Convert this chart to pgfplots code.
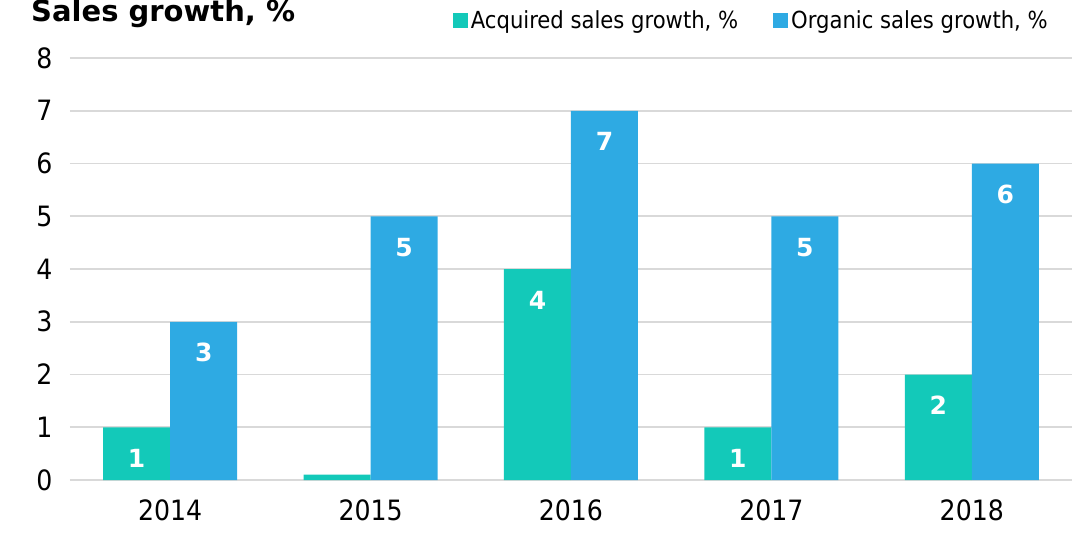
\documentclass[border=0pt]{standalone}
\usepackage{pgfplots}
\usepackage{pgfplotstable}
\pgfplotsset{compat=1.18}
\usepackage{fontspec}
\setmainfont{DejaVu Sans Condensed}
\newfontfamily\titlefont{DejaVu Sans}
\definecolor{acq}{HTML}{13C9B9}
\definecolor{org}{HTML}{2EAAE3}
\definecolor{gridc}{HTML}{D9D9D9}
\pgfplotstableread{
x acq acql org orgl
0 1   1  3 3
1 0.1 {} 5 5
2 4   4  7 7
3 1   1  5 5
4 2   2  6 6
}\salesdata
\begin{document}
\begin{tikzpicture}
\begin{axis}[
  scale only axis,
  width=1002pt, height=422pt,
  ybar=0pt, bar width=67pt,
  xmin=-0.5, xmax=4.5,
  ymin=0, ymax=8,
  ytick={0,1,...,8},
  xtick=data,
  xticklabels={2014,2015,2016,2017,2018},
  axis line style={draw=none},
  major tick length=0pt,
  ymajorgrids,
  grid style={gridc, line width=1.6pt},
  /pgf/number format/assume math mode=true,
  tick label style={font=\fontsize{28}{32}\selectfont},
  yticklabel style={xshift=-14pt},
  xticklabel style={yshift=-16pt},
  nodes near coords,
  point meta=explicit symbolic,
  every node near coord/.append style={anchor=center, yshift=-31pt, text=white, font=\titlefont\bfseries\fontsize{25}{30}\selectfont},
  legend columns=2,
  legend style={at={(0.978,1.09)}, anchor=east, draw=none, fill=none, inner sep=0pt,
    font=\fontsize{23.5}{28}\selectfont,
    /tikz/every even column/.append style={column sep=33pt}},
]
\addplot[fill=acq, draw=none, legend image code/.code={\fill[acq] (0pt,-7.5pt) rectangle (15pt,7.5pt);}] table[x=x, y=acq, meta=acql] {\salesdata};
\addlegendentry{\hspace{1pt}Acquired sales growth, \%}
\addplot[fill=org, draw=none, legend image code/.code={\fill[org] (0pt,-7.5pt) rectangle (15pt,7.5pt);}] table[x=x, y=org, meta=orgl] {\salesdata};
\addlegendentry{\hspace{1pt}Organic sales growth, \%}
\end{axis}
\node[anchor=base west, font=\titlefont\bfseries\fontsize{29}{34}\selectfont, inner sep=0pt] at (-39pt,458pt) {Sales growth, \%};
\pgfresetboundingbox
\useasboundingbox (-70pt,-56pt) rectangle (1014pt,480pt);
\end{tikzpicture}
\end{document}
